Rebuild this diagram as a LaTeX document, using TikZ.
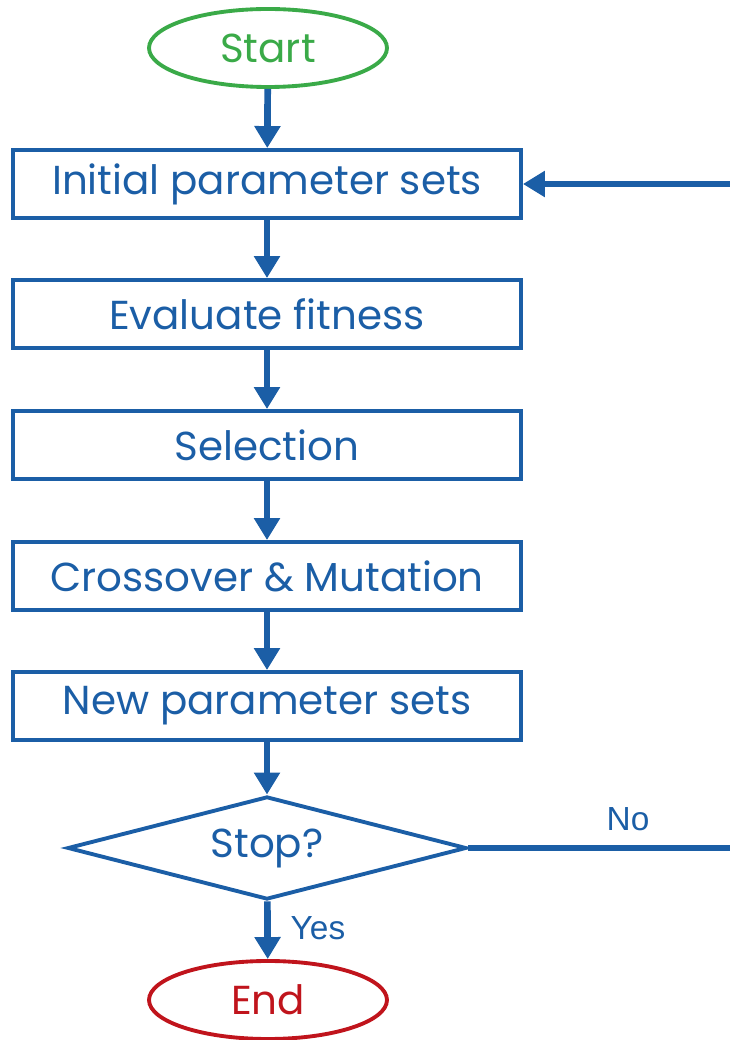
\documentclass[tikz,border=0pt]{standalone}
\usepackage{fontspec}
\setmainfont{Poppins}
\newfontfamily\labelfont{Liberation Sans}
\usepackage{tikz}
\definecolor{flowblue}{RGB}{27,94,166}
\definecolor{startgreen}{RGB}{58,170,72}
\definecolor{endred}{RGB}{192,20,28}
\usetikzlibrary{arrows.meta}
\usetikzlibrary{shapes.geometric}

\tikzset{
  stepbox/.style={draw=flowblue, line width=2.2pt, text=flowblue, rectangle,
    minimum width=10.16cm, minimum height=1.36cm, inner sep=0pt, font=\fontsize{23}{27}\selectfont},
  terminal/.style={ellipse, line width=2.2pt, minimum width=4.76cm, minimum height=1.56cm,
    inner sep=0pt, font=\fontsize{23}{27}\selectfont},
  flow/.style={flowblue, line width=3.8pt, -{Triangle[width=0.5cm, length=0.44cm]}},
  answer/.style={text=flowblue, font=\labelfont\fontsize{19}{22}\selectfont},
}

\begin{document}
\begin{tikzpicture}

        \useasboundingbox (0,0) rectangle (14.6,20.8);

        % terminals
        \node [terminal, draw=startgreen, text=startgreen] (start) at (5.36,19.84) {Start};
        \node [terminal, draw=endred, text=endred] (finish) at (5.36,0.8) {End};

        % steps of the loop
        \node [stepbox] (init) at (5.34,17.12) {Initial parameter sets};
        \node [stepbox] (fitness) at (5.34,14.52) {Evaluate fitness};
        \node [stepbox] (select) at (5.34,11.9) {Selection};
        \node [stepbox] (cross) at (5.34,9.28) {Crossover \& Mutation};
        \node [stepbox] (newsets) at (5.34,6.68) {New parameter sets};

        \node [diamond, draw=flowblue, line width=2.2pt, inner sep=0pt,
               minimum width=7.98cm, minimum height=2.06cm,
               label={[text=flowblue, font=\fontsize{23}{27}\selectfont]center:Stop?}] (stop) at (5.34,3.84) {};

        % arrows down the chart
        \draw [flow] (start) -- (init);
        \draw [flow] (init) -- (fitness);
        \draw [flow] (fitness) -- (select);
        \draw [flow] (select) -- (cross);
        \draw [flow] (cross) -- (newsets);
        \draw [flow] (newsets) -- (stop);
        \draw [flow] (stop) -- node [answer, right=0.28cm, yshift=0.04cm] {Yes} (finish);

        % back to the start of the loop
        \coordinate (noend) at (14.6,3.84);
        \coordinate (back) at (14.6,17.12);
        \draw [flowblue, line width=3.8pt] (stop.east) -- node [answer, pos=0.61, above=0.16cm] {No} (noend);
        \draw [flow] (back) -- (init.east);

\end{tikzpicture}
\end{document}
